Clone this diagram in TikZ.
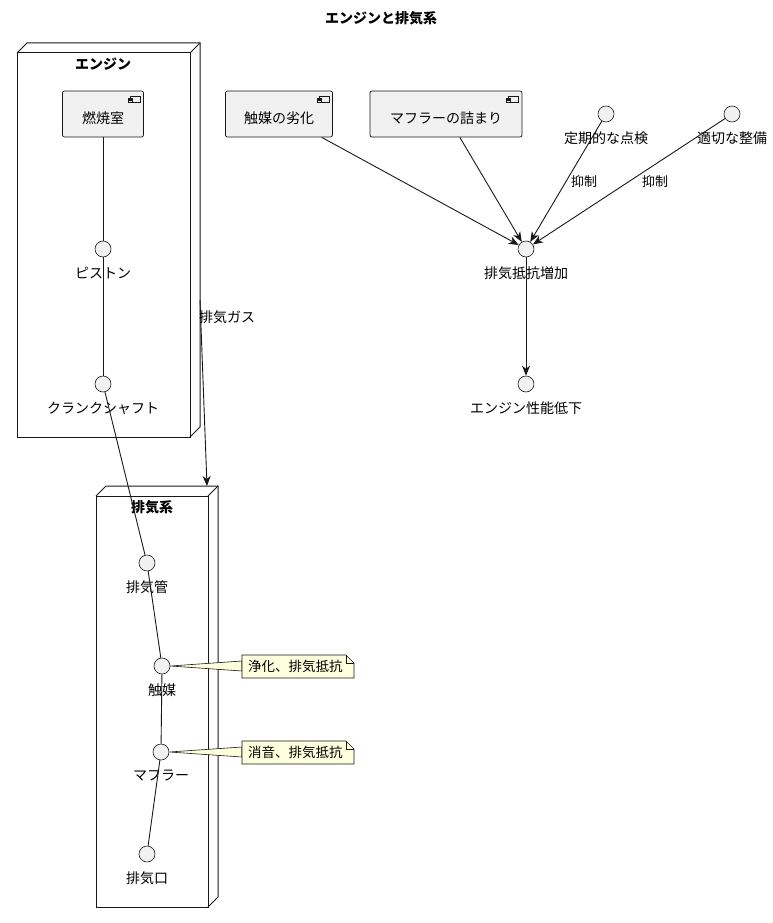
\documentclass[tikz,border=0pt]{standalone}
\usepackage{fontspec}
\setmainfont{Noto Sans CJK JP}
\usetikzlibrary{arrows.meta}
\definecolor{umlline}{HTML}{181818}
\definecolor{umlfill}{HTML}{F1F1F1}
\definecolor{notefill}{HTML}{FEFFDD}

% small component icon in the top right corner of a component node
\newcommand{\compicon}[1]{
	\draw[umlline, line width=0.5pt, fill=umlfill] ([shift={(-14,6)}]#1.north east) rectangle ([shift={(-4,12)}]#1.north east);
	\draw[umlline, line width=0.5pt, fill=umlfill] ([shift={(-16,7.5)}]#1.north east) rectangle ([shift={(-12,9)}]#1.north east);
	\draw[umlline, line width=0.5pt, fill=umlfill] ([shift={(-16,10)}]#1.north east) rectangle ([shift={(-12,11.5)}]#1.north east);
}

\begin{document}
\begin{tikzpicture}[x=1pt, y=-1pt,
		every node/.style={font=\fontsize{14}{16}\selectfont, text=black},
		comp/.style={draw=umlline, fill=umlfill, rounded corners=2pt, line width=0.7pt, minimum height=46pt, text height=22pt, text depth=2pt, inner xsep=12pt},
		iface/.style={circle, draw=umlline, fill=umlfill, line width=0.6pt, minimum size=16pt, inner sep=0pt},
		frame/.style={draw=umlline, line width=1pt},
		link/.style={draw=umlline, line width=0.9pt},
		arr/.style={link, -{Stealth[length=10pt, width=8pt, inset=3pt]}},
		notebox/.style={draw=umlline, fill=notefill, line width=0.6pt}]
	\useasboundingbox (0,0) rectangle (772,923);

	\node (title) at (381,18) [font=\fontsize{14}{16}\selectfont\bfseries]{エンジンと排気系};

	% engine frame
	\draw[frame] (17,53) rectangle (190,437);
	\draw[frame] (17,53) -- (27,43) -- (200,43) -- (200,427) -- (190,437);
	\draw[frame] (190,53) -- (200,43);
	\node (engtitle) at (103,64) [font=\fontsize{14}{16}\selectfont\bfseries]{エンジン};

	% exhaust frame
	\draw[frame] (96,496) rectangle (208,907);
	\draw[frame] (96,496) -- (106,486) -- (218,486) -- (218,897) -- (208,907);
	\draw[frame] (208,496) -- (218,486);
	\node (exhtitle) at (152,507) [font=\fontsize{14}{16}\selectfont\bfseries]{排気系};

	% components
	\node (comb) at (103,114) [comp, minimum width=81pt]{燃焼室};
	\node (catdeg) at (279,114) [comp, minimum width=107pt]{触媒の劣化};
	\node (mufclog) at (446,114) [comp, minimum width=152pt]{マフラーの詰まり};
	\compicon{comb}
	\compicon{catdeg}
	\compicon{mufclog}

	% interfaces
	\foreach \n/\x/\y/\t in {piston/103/249/ピストン, crank/103/384/クランクシャフト,
			pipe/147/563/排気管, cat/162/666/触媒, muffler/161/752/マフラー, outlet/147/854/排気口,
			check/606/114/定期的な点検, maint/732/114/適切な整備,
			resist/526/249/排気抵抗増加, perf/526/384/エンジン性能低下}{
		\node (\n) at (\x,\y) [iface]{};
		\node (\n lbl) at (\x,\y+24) {\t};
	}

	% links
	\draw[link] (comb) -- (piston);
	\draw[link] (piston) -- (crank);
	\draw[link] (crank) -- (pipe);
	\draw[link] (pipe) -- (cat);
	\draw[link] (cat) -- (muffler);
	\draw[link] (muffler) -- (outlet);

	\coordinate (gasstart) at (200,300);
	\coordinate (gasend) at (207,486);
	\draw[arr] (gasstart) -- (gasend);
	\node (gaslbl) at (227,317) {排気ガス};

	\draw[arr] (catdeg) -- (resist);
	\draw[arr] (mufclog) -- (resist);
	\draw[arr] (check) -- (resist);
	\draw[arr] (maint) -- (resist);
	\draw[arr] (resist) -- (perf);
	\node (sup1) at (584,182) [font=\fontsize{13}{15}\selectfont]{抑制};
	\node (sup2) at (655,182) [font=\fontsize{13}{15}\selectfont]{抑制};

	% notes
	\draw[notebox] (cat.east) -- (242,661) -- (242,671) -- cycle;
	\draw[notebox] (242,655) -- (346,655) -- (354,663) -- (354,678) -- (242,678) -- cycle;
	\draw[umlline, line width=0.6pt] (346,655) -- (346,663) -- (354,663);
	\node (note1) at (248,666) [anchor=west, inner sep=0pt, font=\fontsize{13.5}{15}\selectfont]{浄化、排気抵抗};

	\draw[notebox] (muffler.east) -- (242,747) -- (242,757) -- cycle;
	\draw[notebox] (242,741) -- (346,741) -- (354,749) -- (354,764) -- (242,764) -- cycle;
	\draw[umlline, line width=0.6pt] (346,741) -- (346,749) -- (354,749);
	\node (note2) at (248,752) [anchor=west, inner sep=0pt, font=\fontsize{13.5}{15}\selectfont]{消音、排気抵抗};
\end{tikzpicture}
\end{document}
